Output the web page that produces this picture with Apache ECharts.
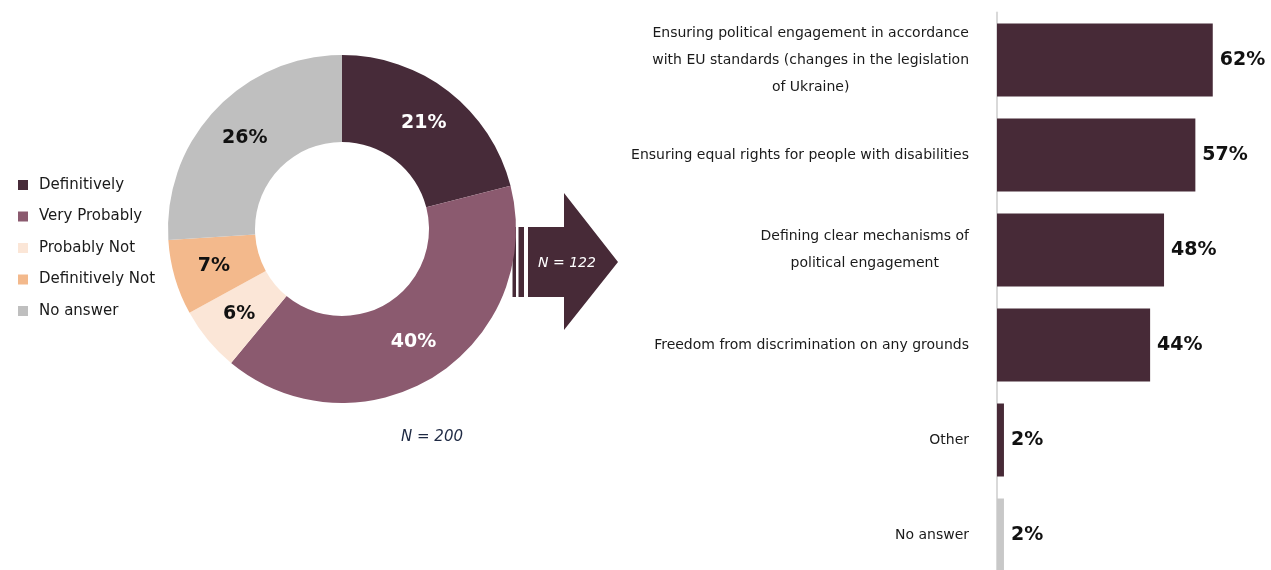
<!DOCTYPE html>
<html>
<head>
<meta charset="utf-8">
<script src="https://cdn.jsdelivr.net/npm/echarts@6/dist/echarts.min.js"></script>
<style>
  html, body { margin: 0; padding: 0; background: #fff; }
  #chart { width: 1271px; height: 570px; }
</style>
</head>
<body>
<div id="chart"></div>
<script>
// donut: willingness
const pieNames = ['Definitively', 'Very Probably', 'Probably Not', 'Definitively Not', 'No answer']
const pieValues = [21, 40, 6, 7, 26]
const pieColors = ['#472b39', '#8b5a6f', '#fbe6d7', '#f3b98c', '#bfbfbf']
const pieLabelColors = ['#fff', '#fff', '#111', '#111', '#111']

// bars: conditions (N = 122)
const barCategories = [
  'Ensuring political engagement in accordance\nwith EU standards (changes in the legislation\nof Ukraine)',
  'Ensuring equal rights for people with disabilities',
  'Defining clear mechanisms of\npolitical engagement',
  'Freedom from discrimination on any grounds',
  'Other',
  'No answer'
]
const barValues = [62, 57, 48, 44, 2, 2]
const barColors = ['#472a37', '#472a37', '#472a37', '#472a37', '#472a37', '#c8c8c8']

const FONT = 'DejaVu Sans'
const chart = echarts.init(document.getElementById('chart'))

const option = {
  backgroundColor: '#fff',
  animation: false,
  textStyle: { fontFamily: FONT },
  legend: {
    orient: 'vertical',
    left: 13,
    top: 171,
    icon: 'rect',
    itemWidth: 10,
    itemHeight: 10,
    itemGap: 13.5,
    data: pieNames,
    textStyle: { fontFamily: FONT, fontSize: 15, color: '#1a1a1a', lineHeight: 18, padding: [0, 0, 0, 6] }
  },
  grid: { left: 997, top: 12.5, width: 348, height: 570, outerBoundsMode: 'none', containLabel: false },
  xAxis: {
    type: 'value',
    min: 0,
    max: 100,
    show: false
  },
  yAxis: {
    type: 'category',
    inverse: true,
    data: barCategories,
    axisLine: { show: true, lineStyle: { color: '#d9d9d9', width: 2 } },
    axisTick: { show: false },
    axisLabel: {
      align: 'right',
      margin: 28,
      formatter: v => v.split('\n').map(l => `{c|${l}}`).join('\n'),
      rich: {
        c: { align: 'center', fontFamily: FONT, fontSize: 14, color: '#1a1a1a', lineHeight: 27 }
      }
    }
  },
  series: [
    {
      type: 'pie',
      center: [342, 229],
      radius: [87, 174],
      startAngle: 90,
      clockwise: true,
      data: pieNames.map((n, i) => ({
        name: n,
        value: pieValues[i],
        itemStyle: { color: pieColors[i] },
        label: { color: pieLabelColors[i] }
      })),
      label: {
        show: true,
        position: 'inside',
        formatter: '{c}%',
        fontFamily: FONT,
        fontWeight: 'bold',
        fontSize: 19
      },
      labelLine: { show: false },
      emphasis: { disabled: true }
    },
    {
      type: 'bar',
      barWidth: 73,
      data: barValues.map((v, i) => ({ value: v, itemStyle: { color: barColors[i] } })),
      label: {
        show: true,
        position: 'right',
        distance: 7,
        formatter: '{c}%',
        fontFamily: FONT,
        fontWeight: 'bold',
        fontSize: 19,
        color: '#111'
      }
    }
  ],
  graphic: [
    // arrow between the two charts
    { type: 'rect', shape: { x: 512.5, y: 227, width: 3.5, height: 70 }, style: { fill: '#472a37' } },
    { type: 'rect', shape: { x: 518.5, y: 227, width: 5.5, height: 70 }, style: { fill: '#472a37' } },
    {
      type: 'polygon',
      shape: { points: [[528, 227], [564, 227], [564, 193], [618, 262], [564, 330], [564, 297], [528, 297]] },
      style: { fill: '#472a37' }
    },
    {
      type: 'text',
      x: 567, y: 263,
      style: { text: 'N = 122', fill: '#fff', font: 'italic 14px "DejaVu Sans"', align: 'center', verticalAlign: 'middle' }
    },
    {
      type: 'text',
      x: 432, y: 437,
      style: { text: 'N = 200', fill: '#1f2a44', font: 'italic 15px "DejaVu Sans"', align: 'center', verticalAlign: 'middle' }
    }
  ]
}

chart.setOption(option)
window.addEventListener('resize', () => chart.resize())
</script>
</body>
</html>
